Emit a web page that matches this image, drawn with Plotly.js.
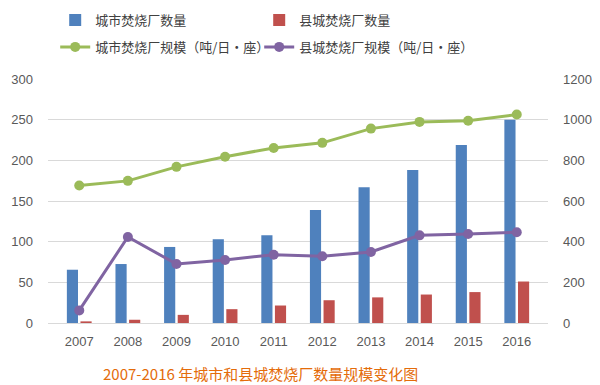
<!DOCTYPE html>
<html><head><meta charset="utf-8">
<script src="https://cdn.plot.ly/plotly-3.0.1.min.js"></script>
<style>body{margin:0;}#c{width:600px;height:385px;}</style>
</head><body><div id="c"></div>
<script>
const years = ['2007','2008','2009','2010','2011','2012','2013','2014','2015','2016'];
const cityCount = [65.5, 72.5, 93.5, 103, 108, 139, 167, 188, 219, 250];
const countyCount = [2, 4, 10, 17, 21.5, 28, 31.5, 35, 38, 51];
const cityScale = [676, 699, 768, 818, 861, 886, 956, 989, 995, 1025];
const countyScale = [62, 423, 290, 310, 336, 328, 349, 431, 438, 446];
const names = ['城市焚烧厂数量','县城焚烧厂数量','城市焚烧厂规模（吨/日·座）','县城焚烧厂规模（吨/日·座）'];
const leftTicks = [0,50,100,150,200,250,300];
const rightTicks = [0,200,400,600,800,1000,1200];

const traces = [
 {type:'bar', x:years, y:cityCount, name:names[0], marker:{color:'#4F81BD'}, yaxis:'y', legend:'legend'},
 {type:'bar', x:years, y:countyCount, name:names[1], marker:{color:'#C0504D'}, yaxis:'y', legend:'legend2'},
 {type:'scatter', mode:'lines+markers', x:years, y:cityScale, name:names[2], yaxis:'y2', legend:'legend3',
  line:{color:'#9BBB59', width:3}, marker:{color:'#9BBB59', size:10}},
 {type:'scatter', mode:'lines+markers', x:years, y:countyScale, name:names[3], yaxis:'y2', legend:'legend4',
  line:{color:'#8064A2', width:3}, marker:{color:'#8064A2', size:10}}
];
const tickFont = {family:'"Liberation Sans", Arial, sans-serif', size:13, color:'#595959'};
const legFont = {family:'"Noto Sans CJK SC", sans-serif', size:13, color:'#404040'};
function leg(x, y){
  return {orientation:'h', x:x, xref:'container', y:y, yref:'container', yanchor:'top', xanchor:'left',
    itemwidth:30, font:legFont, bgcolor:'rgba(0,0,0,0)'};
}
const layout = {
 width:600, height:385,
 margin:{l:48, r:52, t:79, b:62, autoexpand:false},
 paper_bgcolor:'#fff', plot_bgcolor:'#fff',
 barmode:'group', bargap:0.44, bargroupgap:0.18,
 showlegend:true,
 legend:leg(0.092, 0.987),
 legend2:leg(0.432, 0.987),
 legend3:leg(0.092, 0.917),
 legend4:leg(0.432, 0.917),
 xaxis:{type:'category', tickfont:tickFont, showline:true, linecolor:'#D9D9D9', ticks:'', showgrid:false,
   ticklabelstandoff:6},
 yaxis:{range:[0,300], tickvals:leftTicks, tickfont:tickFont, showgrid:true, gridcolor:'#D9D9D9',
   zeroline:false, ticks:'', ticklabelstandoff:14},
 yaxis2:{range:[0,1200], tickvals:rightTicks, overlaying:'y', side:'right', tickfont:tickFont,
   showgrid:false, zeroline:false, ticks:'', ticklabelstandoff:14},
 annotations:[{text:'2007-2016 年城市和县城焚烧厂数量规模变化图', xref:'paper', yref:'paper',
   x:(260-48)/500, y:-0.208, yanchor:'middle', xanchor:'center', showarrow:false,
   font:{family:'"Noto Sans CJK SC", sans-serif', size:15, color:'#E46C0A'}}]
};
Plotly.newPlot('c', traces, layout, {displayModeBar:false, staticPlot:true});
</script></body></html>
